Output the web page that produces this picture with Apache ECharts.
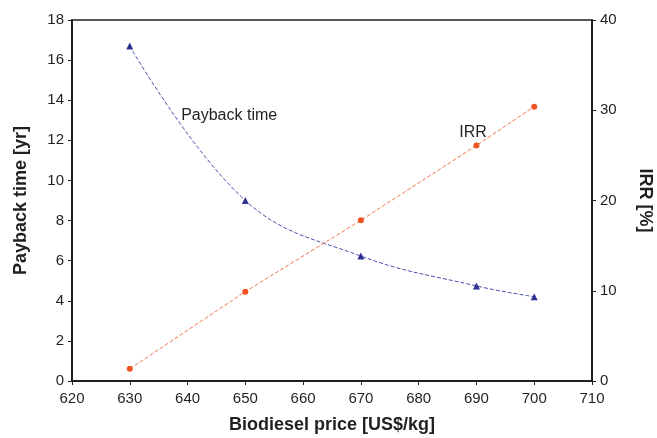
<!DOCTYPE html>
<html><head><meta charset="utf-8">
<script src="https://cdn.jsdelivr.net/npm/echarts@6/dist/echarts.min.js"></script>
<style>html,body{margin:0;padding:0;background:#fff}#c{width:657px;height:438px}</style>
</head><body><div id="c"></div>
<script>
const prices = [630, 650, 670, 690, 700];
const paybackTime = [16.7, 9.0, 6.23, 4.74, 4.2];
const irr = [1.35, 9.9, 17.8, 26.1, 30.4];
const xTicks = [620, 630, 640, 650, 660, 670, 680, 690, 700, 710];
const leftTicks = [0, 2, 4, 6, 8, 10, 12, 14, 16, 18];
const rightTicks = [0, 10, 20, 30, 40];

const chart = echarts.init(document.getElementById('c'));
const font = 'Liberation Sans, Arial, sans-serif';
const axisCol = '#231f20';
chart.setOption({
  animation: false,
  grid: {left: 72, right: 65, top: 20, bottom: 57, show: true, borderColor: axisCol, borderWidth: 1.5, outerBoundsMode: 'none', containLabel: false},
  xAxis: {
    type: 'value', min: xTicks[0], max: xTicks[xTicks.length - 1], interval: 10,
    name: 'Biodiesel price [US$/kg]', nameLocation: 'middle', nameGap: 35,
    nameTextStyle: {fontFamily: font, fontSize: 18, fontWeight: 'bold', color: axisCol},
    axisLine: {lineStyle: {color: axisCol, width: 2}},
    axisTick: {show: true, inside: false, length: 4, lineStyle: {color: axisCol}},
    axisLabel: {fontFamily: font, fontSize: 15, color: axisCol, margin: 10},
    splitLine: {show: false}
  },
  yAxis: [{
    type: 'value', min: leftTicks[0], max: leftTicks[leftTicks.length - 1], interval: 2,
    name: 'Payback time [yr]', nameLocation: 'middle', nameGap: 42,
    nameTextStyle: {fontFamily: font, fontSize: 18, fontWeight: 'bold', color: axisCol},
    axisLine: {show: true, lineStyle: {color: axisCol, width: 2}},
    axisTick: {show: true, length: 4, lineStyle: {color: axisCol}},
    axisLabel: {fontFamily: font, fontSize: 15, color: axisCol, margin: 8},
    splitLine: {show: false}
  }, {
    type: 'value', min: rightTicks[0], max: rightTicks[rightTicks.length - 1], interval: 10,
    name: 'IRR [%]', nameLocation: 'middle', nameGap: 44, nameRotate: -90,
    nameTextStyle: {fontFamily: font, fontSize: 18, fontWeight: 'bold', color: axisCol},
    axisLine: {show: true, lineStyle: {color: axisCol, width: 2}},
    axisTick: {show: true, length: 4, lineStyle: {color: axisCol}},
    axisLabel: {fontFamily: font, fontSize: 15, color: axisCol, margin: 8},
    splitLine: {show: false}
  }],
  series: [{
    name: 'Payback time', type: 'line', yAxisIndex: 0, smooth: 0.4,
    data: prices.map((p, i) => [p, paybackTime[i]]),
    symbol: 'triangle', symbolSize: 7,
    itemStyle: {color: '#2e3192'},
    lineStyle: {color: '#4a52b0', width: 1, type: [4, 2]},
    markPoint: {
      symbol: 'circle', symbolSize: 0,
      data: [{coord: [647.2, 13.25], value: 'Payback time'}],
      label: {show: true, formatter: 'Payback time', fontFamily: font, fontSize: 16, color: axisCol, position: 'inside'}
    }
  }, {
    name: 'IRR', type: 'line', yAxisIndex: 1,
    data: prices.map((p, i) => [p, irr[i]]),
    symbol: 'circle', symbolSize: 6,
    itemStyle: {color: '#f05323'},
    lineStyle: {color: '#f3764d', width: 1, type: [4, 2]},
    markPoint: {
      symbol: 'circle', symbolSize: 0,
      data: [{coord: [689.4, 27.5], value: 'IRR'}],
      label: {show: true, formatter: 'IRR', fontFamily: font, fontSize: 16, color: axisCol, position: 'inside'}
    }
  }]
});
</script></body></html>
